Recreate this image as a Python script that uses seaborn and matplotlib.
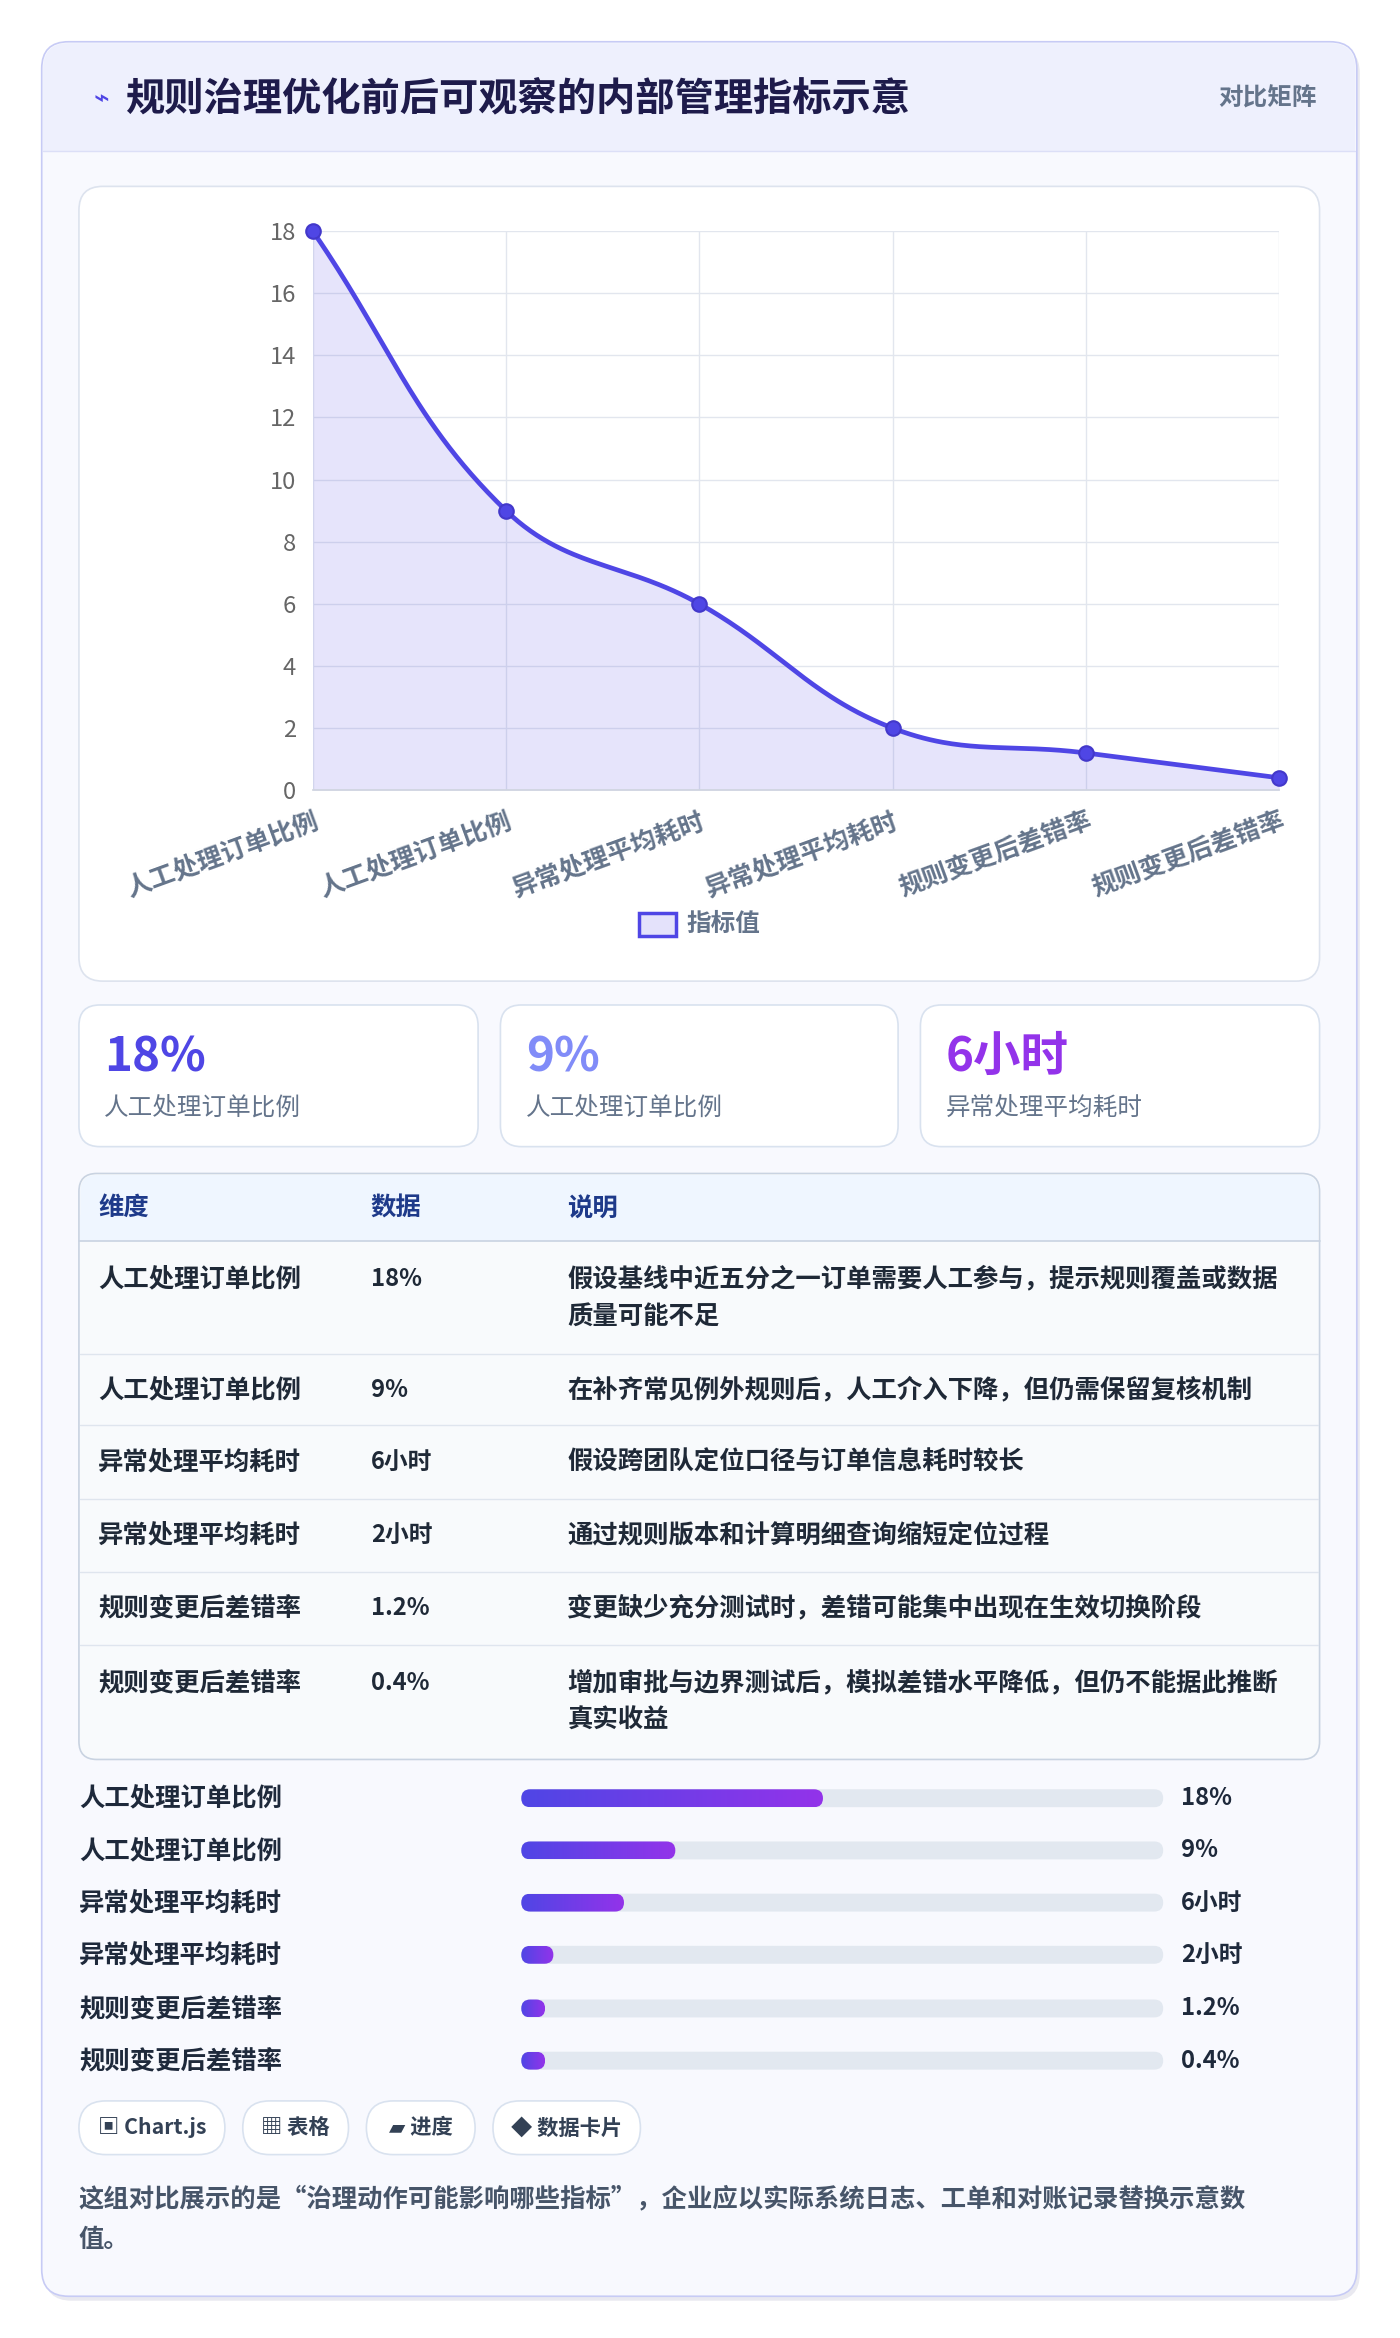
import numpy as np
import matplotlib
matplotlib.use("Agg")
import matplotlib.pyplot as plt
import seaborn as sns
from matplotlib.patches import FancyBboxPatch
from matplotlib.colors import LinearSegmentedColormap

sns.set_theme(style="white")
plt.rcParams['font.family'] = ['Noto Sans CJK SC', 'DejaVu Sans']

# ---- data ----
categories = ["人工处理订单比例", "人工处理订单比例", "异常处理平均耗时", "异常处理平均耗时", "规则变更后差错率", "规则变更后差错率"]
values = [18, 9, 6, 2, 1.2, 0.4]
value_labels = ["18%", "9%", "6小时", "2小时", "1.2%", "0.4%"]
bar_pct = [47, 24, 16, 5, 3, 3]
descriptions = [
    "假设基线中近五分之一订单需要人工参与，提示规则覆盖或数据质量可能不足",
    "在补齐常见例外规则后，人工介入下降，但仍需保留复核机制",
    "假设跨团队定位口径与订单信息耗时较长",
    "通过规则版本和计算明细查询缩短定位过程",
    "变更缺少充分测试时，差错可能集中出现在生效切换阶段",
    "增加审批与边界测试后，模拟差错水平降低，但仍不能据此推断真实收益",
]
kpi_values = ["18%", "9%", "6小时"]
kpi_labels = ["人工处理订单比例", "人工处理订单比例", "异常处理平均耗时"]
kpi_colors = ["#4f46e5", "#818cf8", "#9333ea"]
chips = ["▣ Chart.js", "▦ 表格", "▰ 进度", "◆ 数据卡片"]
title = "规则治理优化前后可观察的内部管理指标示意"
footer = ["这组对比展示的是“治理动作可能影响哪些指标”，企业应以实际系统日志、工单和对账记录替换示意数", "值。"]

W, H = 940, 1568
F = 1.072 * 1.1
fig = plt.figure(figsize=(14, 23.38), dpi=100)
fig.patch.set_facecolor("white")
bg = fig.add_axes([0, 0, 1, 1])
bg.set_xlim(0, W); bg.set_ylim(H, 0); bg.axis("off")

def rbox(x0, y0, x1, y1, r, fc, ec, lw=1.2, z=1):
    p = FancyBboxPatch((x0, y0), x1 - x0, y1 - y0, boxstyle=f"round,pad=0,rounding_size={r}",
                       fc=fc, ec=ec, lw=lw, zorder=z, mutation_aspect=1)
    bg.add_patch(p)
    return p

def txt(x, y, s, size, color, weight="bold", ha="left", z=5):
    bg.text(x, y, s, fontsize=size * F, color=color, fontweight=weight, ha=ha, va="center", zorder=z)

# outer card
rbox(30, 31, 913, 1543, 18, "#e9e9f0", "none", z=0)
rbox(28, 28, 911, 1540, 18, "#f8f9fe", "#c7cbf5", 1.2, z=1)
rbox(29, 29, 910, 101, 17, "#eef0fd", "none", 0, z=1)
bg.add_patch(plt.Rectangle((29, 80), 881, 21, fc="#eef0fd", ec="none", zorder=1))
bg.plot([29, 910], [101, 101], color="#dcdff7", lw=1, zorder=2)
txt(63, 66, "⌁", 16, "#4f46e5")
txt(84, 66, title, 24, "#1e1b4b")
txt(884, 66, "对比矩阵", 15, "#64748b", ha="right")

# chart card
rbox(53, 125, 886, 658, 16, "white", "#dde3ee", 1.2, z=1)

# kpi cards
kx = [(53, 321), (336, 603), (618, 886)]
for (a, b), v, l, c in zip(kx, kpi_values, kpi_labels, kpi_colors):
    rbox(a, 674, b, 769, 14, "white", "#d9e2ef", 1.2, z=1)
    txt(a + 17, 709, v, 29, c)
    txt(a + 17, 743, l, 15, "#64748b", weight="normal")

# table
rbox(53, 787, 886, 1180, 12, "#f8fafc", "#c9d3e1", 1.2, z=1)
rbox(54, 788, 885, 832, 11, "#eff6ff", "none", 0, z=1)
bg.add_patch(plt.Rectangle((54, 815), 831, 17, fc="#eff6ff", ec="none", zorder=1))
bg.plot([53, 886], [832, 832], color="#c9d3e1", lw=1.2, zorder=2)
for x, h in zip([66, 249, 381], ["维度", "数据", "说明"]):
    txt(x, 810, h, 15.5, "#1e3a8a")
row_bounds = [832, 908, 956, 1005, 1054, 1103, 1180]
for i in range(6):
    y0, y1 = row_bounds[i], row_bounds[i + 1]
    if i > 0:
        bg.plot([54, 885], [y0, y0], color="#dfe5ee", lw=1, zorder=2)
    d = descriptions[i]
    if len(d) > 28:
        lines = [d[:28], d[28:]]
        txt(66, y0 + 26, categories[i], 15.5, "#1f2937")
        txt(249, y0 + 26, value_labels[i], 14.5, "#1f2937")
        txt(381, y0 + 26, lines[0], 15.5, "#1f2937")
        txt(381, y0 + 51, lines[1], 15.5, "#1f2937")
    else:
        yc = (y0 + y1) / 2
        txt(66, yc, categories[i], 15.5, "#1f2937")
        txt(249, yc, value_labels[i], 14.5, "#1f2937")
        txt(381, yc, d, 15.5, "#1f2937")

# progress bars
grad = np.linspace(0, 1, 256).reshape(1, -1)
cmap = LinearSegmentedColormap.from_list("g", ["#4f46e5", "#9333ea"])
ys = [1206, 1241, 1276, 1311, 1347, 1382]
tx0, tx1 = 350, 781
for y, c, v, p in zip(ys, categories, value_labels, bar_pct):
    txt(53, y, c, 15.5, "#1e293b")
    rbox(tx0, y - 6, tx1, y + 6, 6, "#e2e8f0", "none", 0, z=2)
    w = max((tx1 - tx0) * p / 100, 16)
    clip = rbox(tx0, y - 6, tx0 + w, y + 6, 6, "none", "none", 0, z=3)
    im = bg.imshow(grad, extent=(tx0, tx0 + w, y + 6, y - 6), cmap=cmap, aspect="auto", zorder=3)
    im.set_clip_path(clip)
    txt(793, y, v, 14.5, "#1e293b")
bg.set_xlim(0, W); bg.set_ylim(H, 0)

# chips
chip_x = [(53, 151), (163, 234), (246, 319), (331, 430)]
for (a, b), s in zip(chip_x, chips):
    rbox(a, 1409, b, 1445, 18, "white", "#d9e2ef", 1.2, z=1)
    bg.text((a + b) / 2, 1427, s, fontsize=13 * F, color="#334155", fontweight="bold", ha="center", va="center",
            zorder=5, family=['Noto Sans CJK SC', 'DejaVu Sans'])

txt(53, 1475, footer[0], 15.5, "#475569")
txt(53, 1502, footer[1], 15.5, "#475569")

# ---- line chart ----
ax = fig.add_axes([210 / W, 1 - 530 / H, (859 - 210) / W, (530 - 155) / H], zorder=3)
ax.patch.set_alpha(0)
n = len(values)
xi = np.arange(n)
px, py = 130.0, 375.0 / 18
P = np.column_stack([xi * px, np.array(values) * py])
cps = []
t = 0.4
for i in range(n):
    prev = P[max(i - 1, 0)]; cur = P[i]; nxt = P[min(i + 1, n - 1)]
    d01 = np.linalg.norm(cur - prev); d12 = np.linalg.norm(nxt - cur)
    s01 = d01 / (d01 + d12) if d01 + d12 > 0 else 0
    s12 = d12 / (d01 + d12) if d01 + d12 > 0 else 0
    cps.append((cur - t * s01 * (nxt - prev), cur + t * s12 * (nxt - prev)))
cx, cy = [], []
tt = np.linspace(0, 1, 60)[:, None]
for i in range(n - 1):
    p0, p1, p2, p3 = P[i], cps[i][1], cps[i + 1][0], P[i + 1]
    B = (1 - tt) ** 3 * p0 + 3 * (1 - tt) ** 2 * tt * p1 + 3 * (1 - tt) * tt ** 2 * p2 + tt ** 3 * p3
    cx.extend(B[:, 0] / px); cy.extend(B[:, 1] / py)
cx, cy = np.array(cx), np.array(cy)
ax.fill_between(cx, 0, cy, color="#4f46e5", alpha=0.14, lw=0)
sns.lineplot(x=cx, y=cy, ax=ax, color="#4f46e5", lw=3.4, sort=False)
sns.scatterplot(x=xi, y=values, ax=ax, color="#4f46e5", s=110, edgecolor="#4338ca", linewidth=1.5, zorder=5, clip_on=False)
ax.set_xlim(0, n - 1); ax.set_ylim(0, 18)
ax.set_yticks(range(0, 19, 2))
ax.set_xticks(xi)
ax.set_xticklabels(categories, rotation=20, ha="right", rotation_mode="anchor", fontweight="bold")
ax.tick_params(axis="x", labelsize=15.5 * F, colors="#64748b", length=0, pad=12)
ax.tick_params(axis="y", labelsize=14.5 * F, colors="#666666", length=0, pad=12)
ax.grid(True, color="#e2e6ee", lw=1)
for s in ax.spines.values():
    s.set_visible(False)
ax.spines["bottom"].set_visible(True); ax.spines["bottom"].set_color("#d0d5e0")

# legend
bg.add_patch(plt.Rectangle((429, 612), 25, 16, fc="#e4e2fb", ec="#4f46e5", lw=2.5, zorder=5))
txt(461, 620, "指标值", 15, "#64748b")

fig.savefig("out.png", dpi=100, facecolor="white")
